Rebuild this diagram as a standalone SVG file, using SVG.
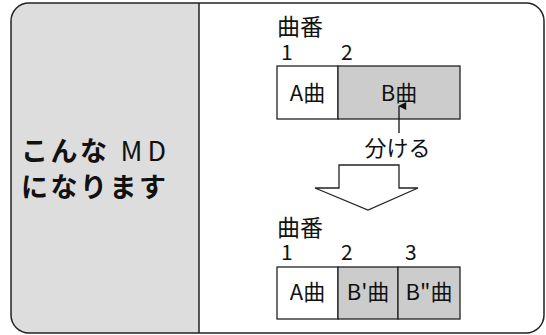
<svg xmlns="http://www.w3.org/2000/svg" width="546" height="335" viewBox="0 0 546 335">
<style>
text{font-family:"Noto Sans CJK JP","Noto Sans",sans-serif;fill:#111}
.t{font-size:22px}
.h{font-size:23px}
.n{font-size:21px}
.c{text-anchor:middle}
.big{font-size:27px;font-weight:bold;letter-spacing:2.5px}
.ln{stroke:#222;stroke-width:1.5;fill:none}
.cell{stroke:#222;stroke-width:1.3}
.w{fill:#fff}
.g{fill:#cccccc}
</style>
<defs>
<marker id="ah" viewBox="0 0 10 10" refX="5" refY="1" markerWidth="8" markerHeight="10" orient="auto" markerUnits="userSpaceOnUse">
<path d="M0,10 L5,0 L10,10 z" fill="#111"/>
</marker>
</defs>
<g id="panel">
<path d="M199,3 H29 A18,18 0 0 0 11,21 V315 A18,18 0 0 0 29,333 H199 Z" fill="#dddddd"/>
<rect x="11" y="3" width="533" height="330" rx="18" ry="18" class="ln"/>
<line x1="199" y1="3" x2="199" y2="333" class="ln"/>
</g>
<g id="title">
<text x="21" y="161" class="big">こんな<tspan font-weight="normal" letter-spacing="5px"> MD</tspan></text>
<text x="21" y="197" class="big">になります</text>
</g>
<g id="before">
<text x="277" y="35" class="h">曲番</text>
<text x="281" y="60" class="n">1</text>
<text x="341" y="60" class="n">2</text>
<rect x="277" y="66" width="61" height="53" class="cell w"/>
<rect x="338" y="66" width="122" height="53" class="cell g"/>
<text x="307.5" y="101" class="t c">A曲</text>
<text x="399" y="101" class="t c">B曲</text>
</g>
<g id="split-label">
<text x="397.5" y="156" class="t c">分ける</text>
</g>
<g id="big-arrow">
<path d="M339,165 H399 V188 H418 L368,210 L315,188 H339 Z" fill="#fff" stroke="#222" stroke-width="1.3" stroke-linejoin="miter"/>
</g>
<g id="after">
<text x="277" y="236" class="h">曲番</text>
<text x="281" y="260" class="n">1</text>
<text x="341" y="260" class="n">2</text>
<text x="405" y="260" class="n">3</text>
<rect x="277" y="267" width="61" height="52" class="cell w"/>
<rect x="338" y="267" width="60" height="52" class="cell g"/>
<rect x="398" y="267" width="62" height="52" class="cell g"/>
<text x="307.5" y="300" class="t c">A曲</text>
<text x="368" y="300" class="t c">B'曲</text>
<text x="429" y="300" class="t c">B"曲</text>
</g>
<g id="connectors">
<line x1="399" y1="133" x2="399" y2="106" stroke="#111" stroke-width="1.3" marker-end="url(#ah)"/>
</g>
</svg>
